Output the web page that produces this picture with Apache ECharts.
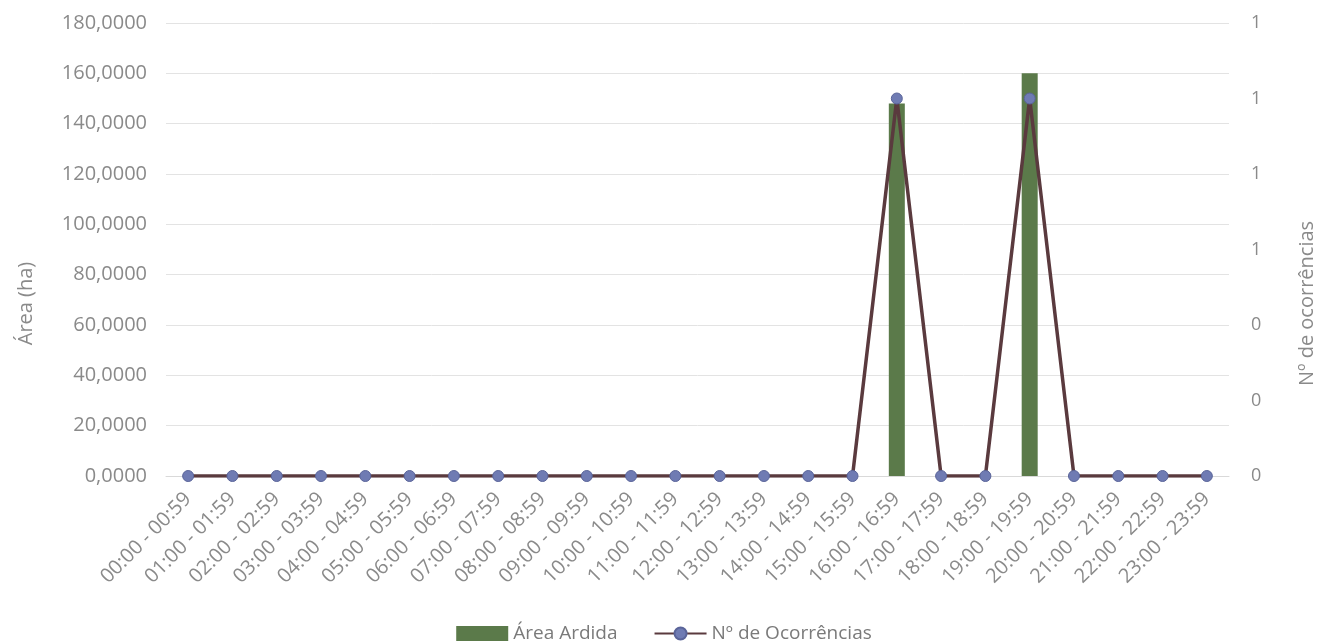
<!DOCTYPE html>
<html>
<head>
  <meta charset="utf-8">
  <title>Área ardida por hora</title>
  <script src="https://fastly.jsdelivr.net/npm/echarts@6/dist/echarts.min.js"></script>
  <style>
    html, body { margin: 0; padding: 0; background: #fff; }
    #main { width: 1328px; height: 644px; }
  </style>
</head>
<body>
<div id="main"></div>
<script type="text/javascript">
  const hours = ['00:00 - 00:59','01:00 - 01:59','02:00 - 02:59','03:00 - 03:59','04:00 - 04:59',
    '05:00 - 05:59','06:00 - 06:59','07:00 - 07:59','08:00 - 08:59','09:00 - 09:59','10:00 - 10:59',
    '11:00 - 11:59','12:00 - 12:59','13:00 - 13:59','14:00 - 14:59','15:00 - 15:59','16:00 - 16:59',
    '17:00 - 17:59','18:00 - 18:59','19:00 - 19:59','20:00 - 20:59','21:00 - 21:59','22:00 - 22:59',
    '23:00 - 23:59'];
  const areaArdida = [0,0,0,0,0,0,0,0,0,0,0,0,0,0,0,0,148,0,0,160,0,0,0,0];
  const ocorrencias = [0,0,0,0,0,0,0,0,0,0,0,0,0,0,0,0,1,0,0,1,0,0,0,0];

  const font = 'Open Sans';
  const grey = '#8a8a8a';

  var myChart = echarts.init(document.getElementById('main'));
  var option = {
    animation: false,
    textStyle: { fontFamily: font },
    grid: { left: 166, right: 99, top: 23, bottom: 168 },
    legend: {
      top: 619,
      left: 'center',
      itemGap: 36,
      itemWidth: 52,
      itemHeight: 15,
      textStyle: { color: '#7a7a7a', fontSize: 19, fontFamily: font },
      data: [
        { name: 'Área Ardida', icon: 'rect' },
        { name: 'Nº de Ocorrências' }
      ]
    },
    xAxis: {
      type: 'category',
      data: hours,
      axisLine: { lineStyle: { color: '#d9d9d9' } },
      axisTick: { show: false },
      axisLabel: { rotate: 45, color: grey, fontSize: 20, margin: 20, interval: 0 }
    },
    yAxis: [
      {
        type: 'value',
        min: 0, max: 180, interval: 20,
        name: 'Área (ha)',
        nameLocation: 'middle',
        nameGap: 130,
        nameTextStyle: { color: grey, fontSize: 20, padding: [0, 108, 0, 0] },
        axisLabel: {
          color: grey, fontSize: 20, margin: 19,
          formatter: v => v.toFixed(4).replace('.', ',')
        },
        splitLine: { lineStyle: { color: '#e3e3e3' } },
        axisLine: { show: false },
        axisTick: { show: false }
      },
      {
        type: 'value',
        min: 0, max: 1.2, interval: 0.2,
        name: 'Nº de ocorrências',
        nameLocation: 'middle',
        nameGap: 68,
        nameRotate: 90,
        nameTextStyle: { color: grey, fontSize: 20, padding: [0, 108, 0, 0] },
        axisLabel: { color: grey, fontSize: 18, margin: 22, formatter: v => String(Math.round(v)) },
        splitLine: { show: false },
        axisLine: { show: false },
        axisTick: { show: false }
      }
    ],
    series: [
      {
        name: 'Área Ardida',
        type: 'bar',
        data: areaArdida,
        barWidth: 16,
        itemStyle: { color: '#5b7a4a' }
      },
      {
        name: 'Nº de Ocorrências',
        type: 'line',
        yAxisIndex: 1,
        data: ocorrencias,
        symbol: 'circle',
        symbolSize: 11,
        lineStyle: { color: '#5a3a3e', width: 3.5 },
        itemStyle: { color: '#6f7bb3', borderColor: '#5a6499', borderWidth: 1 }
      }
    ]
  };
  myChart.setOption(option);
</script>
</body>
</html>
